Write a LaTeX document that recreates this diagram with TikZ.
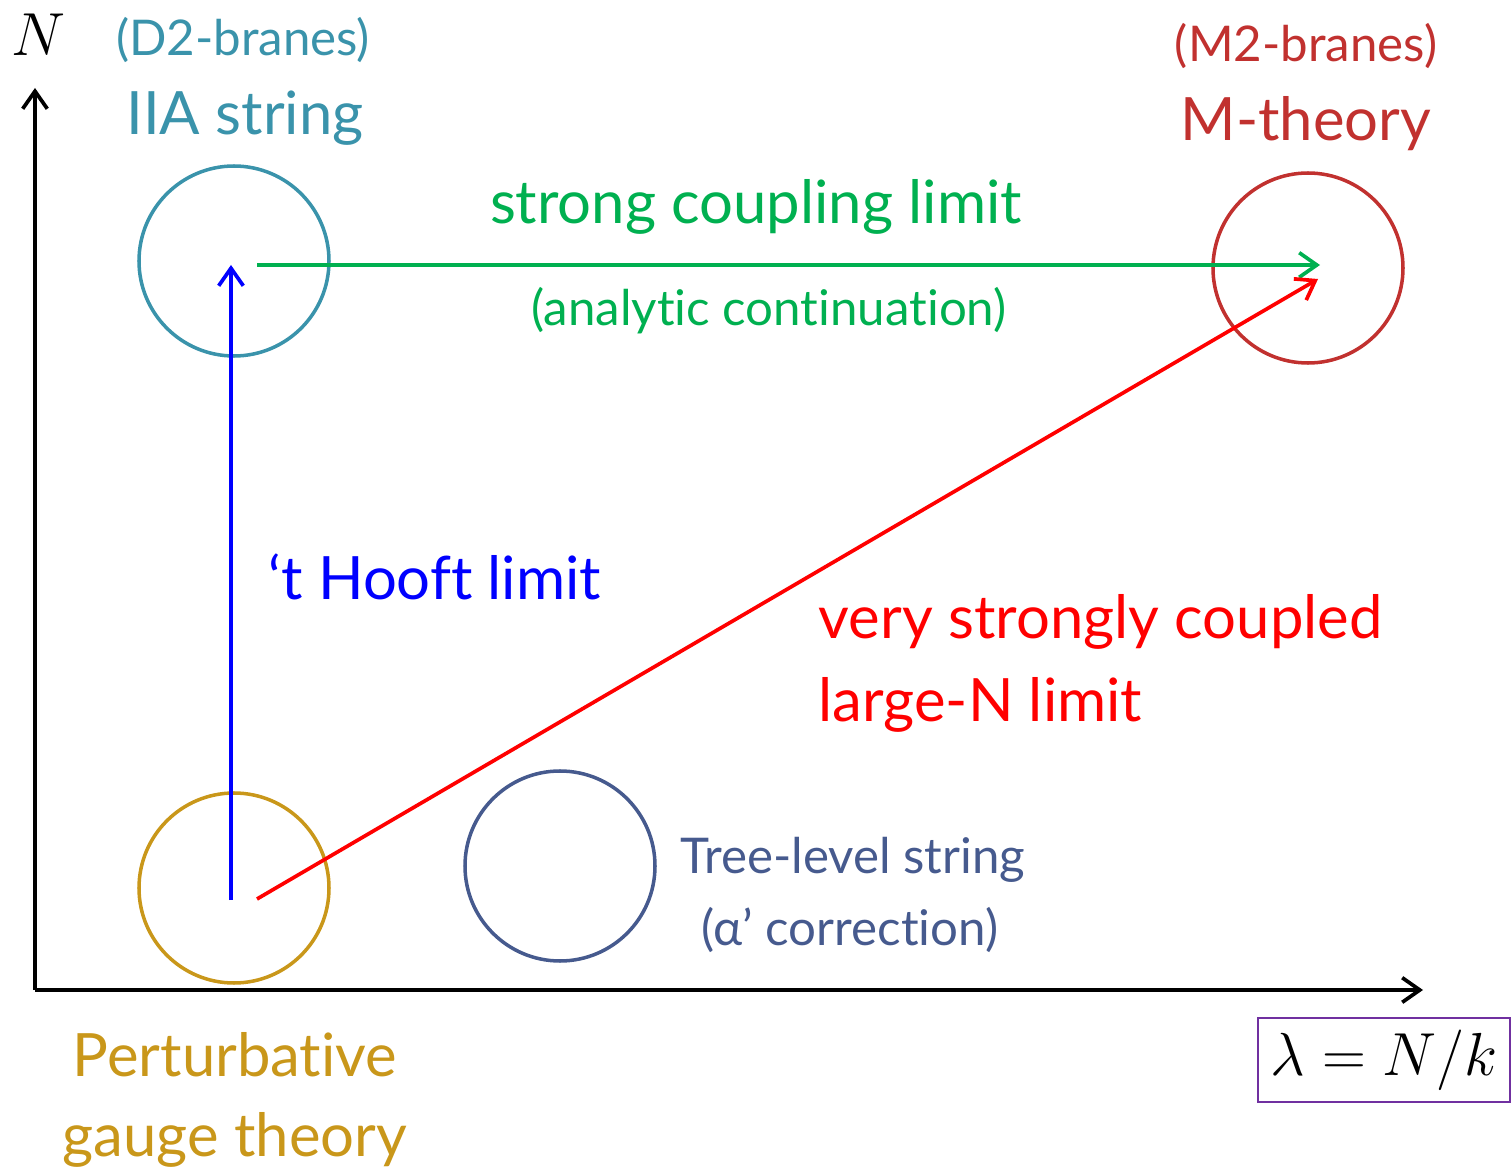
\documentclass[tikz,border=0pt]{standalone}
\usepackage{amsmath}
\usepackage{fontspec}
\setmainfont{Lato}[Ligatures=NoCommon]
\usepackage{tikz}
\usetikzlibrary{arrows.meta,positioning}
\definecolor{typeIIA}{HTML}{3A93AB}
\definecolor{mtheory}{HTML}{C1312F}
\definecolor{strongc}{HTML}{00B050}
\definecolor{pertgold}{HTML}{C9971A}
\definecolor{treeblue}{HTML}{465A8E}
\definecolor{boxpurple}{HTML}{7030A0}
\tikzset{
  regime/.style={draw, line width=1pt, circle, minimum size=190\pgfxunit, inner sep=0pt},
  limitarrow/.style={line width=1.05pt, -{Straight Barb[length=5pt,width=7pt,line width=1.05pt]}},
  biglabel/.style={font=\fontsize{17}{20}\selectfont, inner sep=0pt},
  smalllabel/.style={font=\fontsize{14}{17}\selectfont, inner sep=0pt},
}
\newlength{\pgfxunit}
\setlength{\pgfxunit}{0.01cm}

\begin{document}
\begin{tikzpicture}[x=0.01cm, y=-0.01cm]
  \useasboundingbox (0,0) rectangle (1511,1173);

  % --- axes ---
  \coordinate (origin) at (35,990);
  \coordinate (ytip) at (35,88);
  \coordinate (xtip) at (1423,990);
  \draw[limitarrow] (origin) -- (ytip);
  \draw[limitarrow] (origin) -- (xtip);
  \node[font=\fontsize{18}{20}\selectfont] (Nlab) at (38,35) {$N$};
  \node[draw=boxpurple, line width=0.6pt, minimum width=252\pgfxunit, minimum height=82\pgfxunit,
        font=\fontsize{18}{20}\selectfont] (lam) at (1384,1060) {$\lambda = N/k$};

  % --- regimes ---
  \node[regime, draw=typeIIA] (IIA) at (234,261) {};
  \node[regime, draw=mtheory] (M) at (1308,268) {};
  \node[regime, draw=pertgold] (pert) at (234,888) {};
  \node[regime, draw=treeblue] (tree) at (560,866) {};

  % --- regime labels ---
  \node[smalllabel, typeIIA] (d2) at (243,40) {(D2-branes)};
  \node[biglabel, typeIIA] (iialab) at (245,118) {IIA string};
  \node[smalllabel, mtheory] (m2) at (1306,46) {(M2-branes)};
  \node[biglabel, mtheory] (mlab) at (1306,124) {M-theory};
  \node[biglabel, pertgold] (pertlab) at (235,1055) {Perturbative};
  \node[biglabel, pertgold] (gaugelab) at (235,1140) {gauge theory};
  \node[smalllabel, treeblue, anchor=west] (treelab) at (680,860) {Tree-level string};
  \node[smalllabel, treeblue] (alphalab) at (850,930) {(α’ correction)};

  % --- limits ---
  \coordinate (pertA) at (231,900);
  \coordinate (iiaA) at (231,265);
  \coordinate (iiaB) at (257,265);
  \coordinate (mA) at (1320,265);
  \coordinate (pertB) at (257,899);
  \coordinate (mB) at (1318,279);
  \draw[limitarrow, blue] (pertA) -- (iiaA);
  \draw[limitarrow, strongc] (iiaB) -- (mA);
  \draw[limitarrow, red] (pertB) -- (mB);

  \node[biglabel, strongc] (stronglab) at (756,207) {strong coupling limit};
  \node[smalllabel, strongc] (analab) at (769,311) {(analytic continuation)};
  \node[biglabel, blue, anchor=west] (hooftlab) at (268,577) {‘t Hooft limit};
  \node[biglabel, red, anchor=west] (vslab) at (818,622) {very strongly coupled};
  \node[biglabel, red, anchor=west] (largelab) at (818,705) {large-N limit};
\end{tikzpicture}
\end{document}
